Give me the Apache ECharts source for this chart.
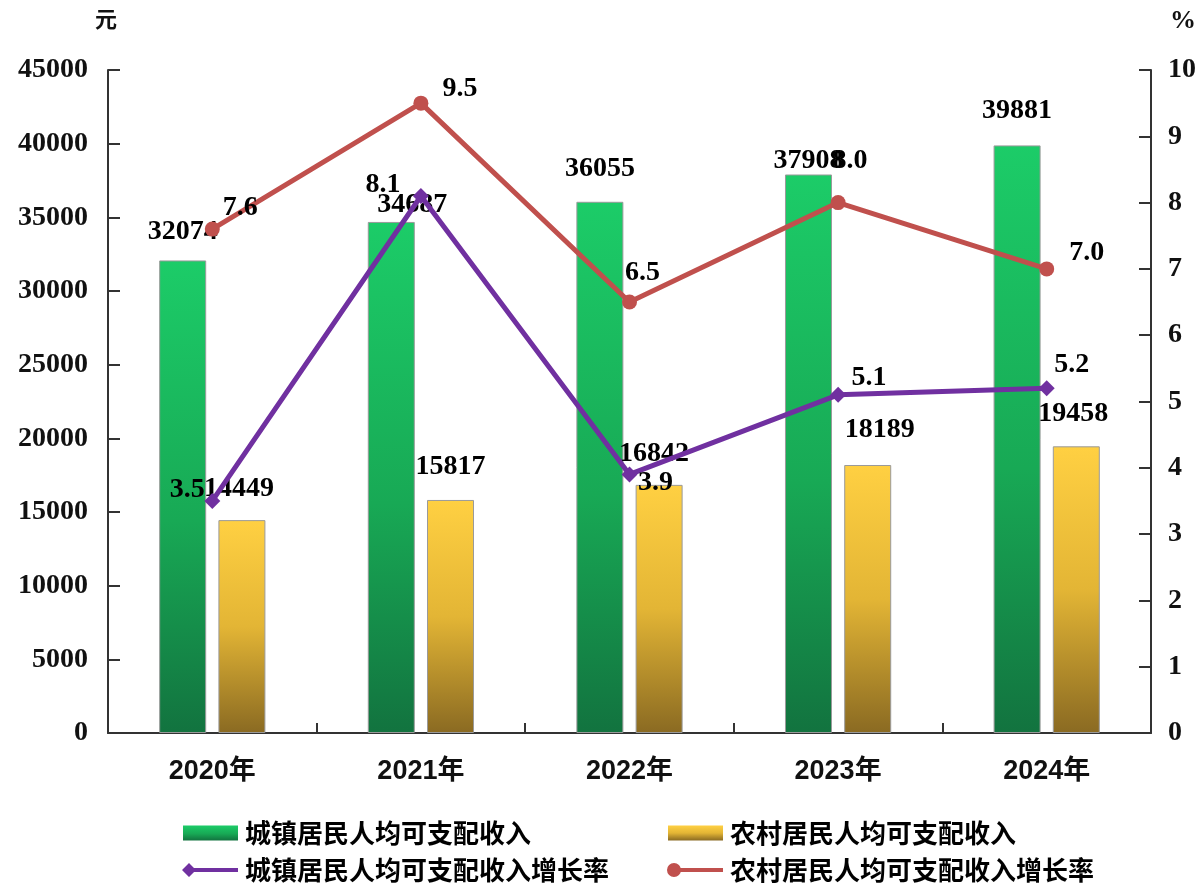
<!DOCTYPE html>
<html>
<head>
<meta charset="utf-8">
<script src="https://cdn.jsdelivr.net/npm/echarts@6/dist/echarts.min.js"></script>
<style>
html,body{margin:0;padding:0;background:#fff;}
#chart{width:1202px;height:888px;}
</style>
</head>
<body>
<div id="chart"></div>
<script>
// ---- data ----
const years = ['2020年', '2021年', '2022年', '2023年', '2024年'];
const urbanIncome = [32074, 34687, 36055, 37908, 39881];
const ruralIncome = [14449, 15817, 16842, 18189, 19458];
const urbanGrowth = [3.5, 8.1, 3.9, 5.1, 5.2];
const ruralGrowth = [7.6, 9.5, 6.5, 8.0, 7.0];
const seriesNames = ['城镇居民人均可支配收入', '农村居民人均可支配收入', '城镇居民人均可支配收入增长率', '农村居民人均可支配收入增长率'];

// ---- label nudges (style only) ----
const urbanBarOff = [[0,-15],[21,-3],[0,-19],[0,0],[0,-21]];
const ruralBarOff = [[-3,-17],[0,-19],[-5,-17],[12,-21],[-3,-19]];
const urbanLineOff = [[-25,11],[-38,11],[26,30],[31,5],[25,-1]];
const ruralLineOff = [[28,0],[39,7],[13,-8],[12,-20],[40,5]];

const serif = '"Liberation Serif", "Times New Roman", serif';
const sansCJK = '"Liberation Sans", "Noto Sans CJK SC", sans-serif';
const cjk = '"Noto Sans CJK SC", sans-serif';

function withOffsets(vals, offs) {
  return vals.map((v, i) => ({
    value: v,
    label: { offset: offs[i] }
  }));
}

const numLabel = (fmt) => ({
  show: true,
  position: 'top',
  distance: 0,
  fontFamily: serif,
  fontWeight: 'bold',
  fontSize: 28,
  lineHeight: 28,
  color: '#000',
  formatter: fmt
});

const chart = echarts.init(document.getElementById('chart'));
const axisLineStyle = { color: '#333', width: 2 };

const greenGrad = new echarts.graphic.LinearGradient(0, 0, 0, 1, [
  { offset: 0, color: '#1ccc68' }, { offset: 0.55, color: '#18a955' }, { offset: 1, color: '#12733f' }
]);
const yellowGrad = new echarts.graphic.LinearGradient(0, 0, 0, 1, [
  { offset: 0, color: '#ffd042' }, { offset: 0.5, color: '#e3b535' }, { offset: 1, color: '#8a6a22' }
]);
const legendText = { fontFamily: cjk, fontWeight: 'bold', fontSize: 26, color: '#000', padding: [0,0,0,2] };

const option = {
  animation: false,
  backgroundColor: '#fff',
  grid: { left: 108, right: 51, top: 70, bottom: 155, containLabel: false },
  legend: [
    { data: [{ name: seriesNames[0], icon: 'rect', itemStyle: { color: greenGrad, borderWidth: 0 } }],
      left: 178, top: 815, itemWidth: 55, itemHeight: 15, itemGap: 0, textStyle: legendText },
    { data: [{ name: seriesNames[1], icon: 'rect', itemStyle: { color: yellowGrad, borderWidth: 0 } }],
      left: 663, top: 815, itemWidth: 55, itemHeight: 15, itemGap: 0, textStyle: legendText },
    { data: [{ name: seriesNames[2], icon: 'path://M0,7 L7,0 L14,7 L7,14 Z M10,5 L56,5 L56,9 L10,9 Z' }],
      left: 177, top: 852, itemWidth: 56, itemHeight: 14, itemGap: 0, textStyle: legendText },
    { data: [{ name: seriesNames[3], icon: 'path://M0,7 A7,7 0 1,1 14,7 A7,7 0 1,1 0,7 Z M12,5 L56,5 L56,9 L12,9 Z' }],
      left: 662, top: 852, itemWidth: 56, itemHeight: 14, itemGap: 0, textStyle: legendText }
  ],
  xAxis: {
    type: 'category',
    data: years,
    axisLine: { lineStyle: axisLineStyle },
    axisTick: { show: true, inside: true, length: 10, lineStyle: { color: '#333', width: 2 } },
    axisLabel: { margin: 25, fontFamily: sansCJK, fontWeight: 'bold', fontSize: 27, color: '#111' },
    splitLine: { show: false }
  },
  yAxis: [
    {
      type: 'value', min: 0, max: 45000, interval: 5000,
      axisLine: { show: true, lineStyle: axisLineStyle },
      axisTick: { show: true, inside: true, length: 12, lineStyle: { color: '#333', width: 2 } },
      axisLabel: { margin: 20, fontFamily: serif, fontWeight: 'bold', fontSize: 28, color: '#111',
        formatter: v => String(v) },
      splitLine: { show: false }
    },
    {
      type: 'value', min: 0, max: 10, interval: 1, position: 'right',
      axisLine: { show: true, lineStyle: axisLineStyle },
      axisTick: { show: true, inside: true, length: 12, lineStyle: { color: '#333', width: 2 } },
      axisLabel: { margin: 17, fontFamily: serif, fontWeight: 'bold', fontSize: 28, color: '#111' },
      splitLine: { show: false }
    }
  ],
  graphic: [
    { type: 'text', left: 95, top: 8, style: { text: '元', fontFamily: cjk, fontWeight: 'bold', fontSize: 22, fill: '#111' } },
    { type: 'text', left: 1170, top: 8, style: { text: '%', fontFamily: serif, fontWeight: 'bold', fontSize: 26, fill: '#111' } }
  ],
  series: [
    {
      name: seriesNames[0], type: 'bar', yAxisIndex: 0,
      barWidth: 47, barGap: '26%',
      data: withOffsets(urbanIncome, urbanBarOff),
      itemStyle: { color: greenGrad, borderColor: '#9a9a9a', borderWidth: 1 },
      label: numLabel('{c}'),
      z: 2
    },
    {
      name: seriesNames[1], type: 'bar', yAxisIndex: 0,
      barWidth: 47,
      data: withOffsets(ruralIncome, ruralBarOff),
      itemStyle: { color: yellowGrad, borderColor: '#9a9a9a', borderWidth: 1 },
      label: numLabel('{c}'),
      z: 2
    },
    {
      name: seriesNames[2], type: 'line', yAxisIndex: 1,
      data: withOffsets(urbanGrowth, urbanLineOff),
      symbol: 'diamond', symbolSize: 16,
      lineStyle: { color: '#7030a0', width: 5 },
      itemStyle: { color: '#7030a0' },
      label: numLabel(p => p.value.toFixed(1)),
      z: 4
    },
    {
      name: seriesNames[3], type: 'line', yAxisIndex: 1,
      data: withOffsets(ruralGrowth, ruralLineOff),
      symbol: 'circle', symbolSize: 15,
      lineStyle: { color: '#c0504d', width: 5 },
      itemStyle: { color: '#c0504d' },
      label: numLabel(p => p.value.toFixed(1)),
      z: 3
    }
  ]
};
chart.setOption(option);
</script>
</body>
</html>
